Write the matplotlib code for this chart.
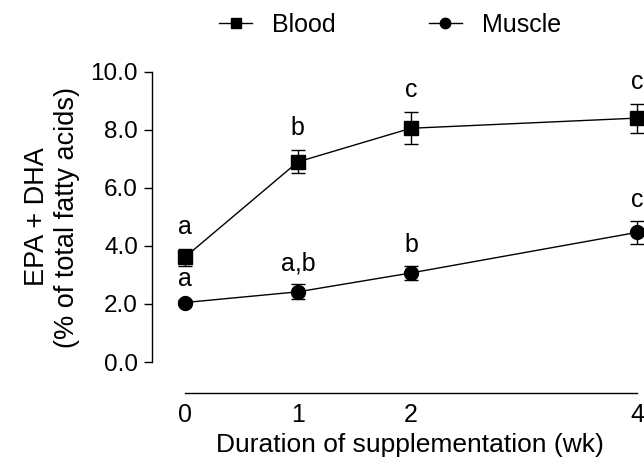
import matplotlib
matplotlib.use("Agg")
import matplotlib.pyplot as plt
from matplotlib.lines import Line2D

plt.rcParams['font.family'] = ['Liberation Sans', 'DejaVu Sans']

weeks = [0, 1, 2, 4]
blood = [3.61, 6.9, 8.06, 8.41]
blood_err = [0.3, 0.4, 0.55, 0.5]
muscle = [2.05, 2.42, 3.07, 4.47]
muscle_err = [0.08, 0.26, 0.23, 0.4]
blood_letters = ['a', 'b', 'c', 'c']
muscle_letters = ['a', 'a,b', 'b', 'c']
yticks = [0, 2, 4, 6, 8, 10]
ytick_labels = ['0.0', '2.0', '4.0', '6.0', '8.0', '10.0']

fig = plt.figure(figsize=(6.44, 4.69), dpi=100)
ax = fig.add_axes([152/644, 107/469, (637-152)/644, 290/469])

ax.errorbar(weeks, blood, yerr=blood_err, color='black', marker='s', ms=10,
            lw=1.0, capsize=5, elinewidth=1.0, capthick=1.0, clip_on=False,
            zorder=3)
ax.errorbar(weeks, muscle, yerr=muscle_err, color='black', marker='o', ms=10,
            lw=1.0, capsize=5, elinewidth=1.0, capthick=1.0, clip_on=False,
            zorder=3)

for x, v, e, t in zip(weeks, blood, blood_err, blood_letters):
    ax.annotate(t, (x, v + e), xytext=(0, 22), textcoords='offset pixels',
                ha='center', va='center', fontsize=18, annotation_clip=False)
for x, v, e, t in zip(weeks, muscle, muscle_err, muscle_letters):
    ax.annotate(t, (x, v + e), xytext=(0, 21), textcoords='offset pixels',
                ha='center', va='center', fontsize=18, annotation_clip=False)

ax.set_xlim(-0.29, 4.0)
ax.set_ylim(0, 10)
ax.set_yticks(yticks)
ax.set_yticklabels(ytick_labels)
ax.set_xticks(weeks)
ax.set_xticklabels([str(w) for w in weeks])

ax.spines['top'].set_visible(False)
ax.spines['right'].set_visible(False)
ax.spines['bottom'].set_position(('outward', 31 * 72 / 100))
ax.spines['bottom'].set_bounds(0, 4)
ax.spines['left'].set_bounds(0, 10)
for s in ['left', 'bottom']:
    ax.spines[s].set_linewidth(1.0)

ax.tick_params(axis='y', direction='out', length=6, width=1.0, labelsize=17.5, pad=4)
ax.tick_params(axis='x', length=0, labelsize=18, pad=7)

ax.set_ylabel('EPA + DHA\n(% of total fatty acids)', fontsize=19.5, labelpad=8,
              linespacing=1.15)
ax.set_xlabel('Duration of supplementation (wk)', fontsize=19, labelpad=4)
ax.xaxis.set_label_coords((410 - 152) / 485, -0.2, transform=ax.transAxes)
ax.xaxis.label.set_va('center')
ax.xaxis.set_label_coords((410 - 152) / 485, 1 - (445 - 72) / 290)

handles = [Line2D([], [], color='black', lw=1.0, marker='s', ms=7.5),
           Line2D([], [], color='black', lw=1.0, marker='o', ms=7.5)]
leg = ax.legend(handles, ['Blood', 'Muscle'], loc='center',
                bbox_to_anchor=(390/644, 1 - 25/469),
                bbox_transform=fig.transFigure, ncol=2, frameon=False,
                fontsize=18, handlelength=1.35, handletextpad=0.8,
                columnspacing=3.7)

fig.savefig('out.png', dpi=100)
